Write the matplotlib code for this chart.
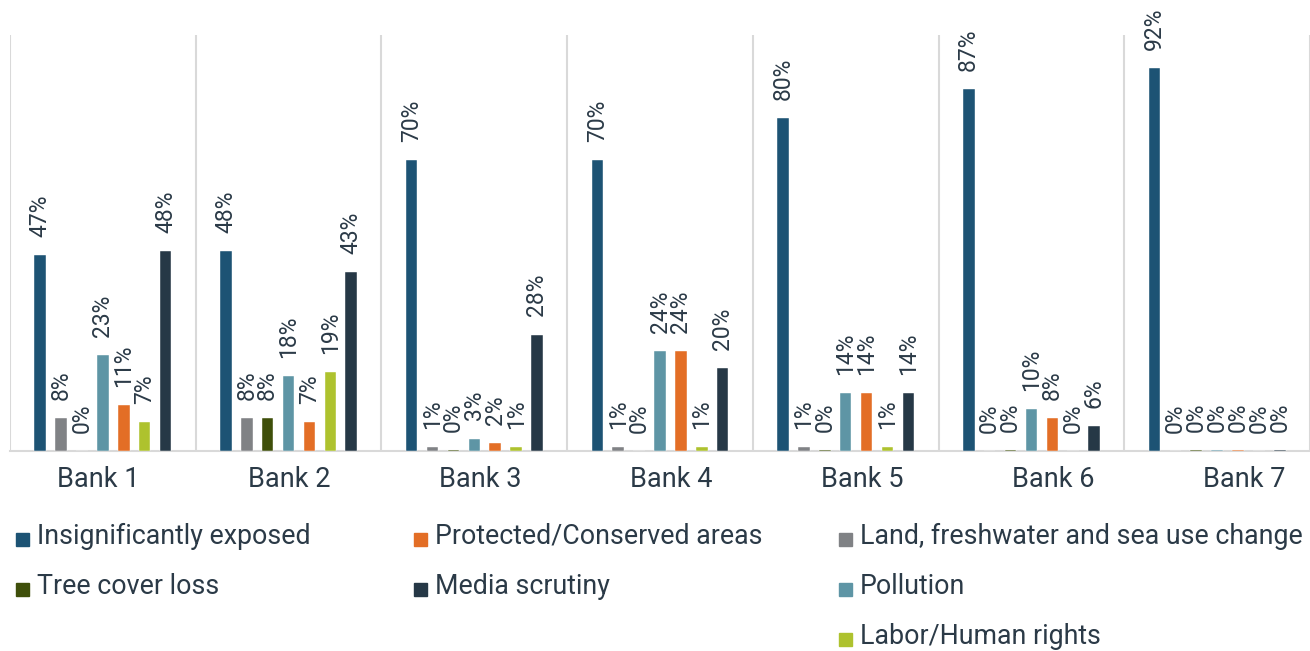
import numpy as np
import matplotlib.pyplot as plt
from matplotlib.patches import Rectangle

plt.rcParams['font.family'] = ['Roboto', 'DejaVu Sans']

banks = ['Bank 1', 'Bank 2', 'Bank 3', 'Bank 4', 'Bank 5', 'Bank 6', 'Bank 7']

# series in the order they appear inside each group
insignificant = [47, 48, 70, 70, 80, 87, 92]
land_use = [8, 8, 1, 1, 1, 0, 0]
tree_cover = [0, 8, 0.3, 0, 0.3, 0.3, 0.3]
pollution = [23, 18, 3, 24, 14, 10, 0.3]
protected = [11, 7, 2, 24, 14, 8, 0.3]
labor = [7, 19, 1, 1, 1, 0, 0]
media = [48, 43, 28, 20, 14, 6, 0.3]

series = [
    ('Insignificantly exposed', insignificant, '#1d5374'),
    ('Land, freshwater and sea use change', land_use, '#808285'),
    ('Tree cover loss', tree_cover, '#3f4f0a'),
    ('Pollution', pollution, '#5e95a5'),
    ('Protected/Conserved areas', protected, '#e36e26'),
    ('Labor/Human rights', labor, '#aec22e'),
    ('Media scrutiny', media, '#263846'),
]

# legend layout as in the original (row, column)
legend_pos = {
    'Insignificantly exposed': (0, 0),
    'Protected/Conserved areas': (0, 1),
    'Land, freshwater and sea use change': (0, 2),
    'Tree cover loss': (1, 0),
    'Media scrutiny': (1, 1),
    'Pollution': (1, 2),
    'Labor/Human rights': (2, 2),
}

text_color = '#2b3a47'
W, H = 1310, 651
fig = plt.figure(figsize=(W / 100, H / 100), dpi=100)
ax = fig.add_axes([10 / W, 1 - 451 / H, 1300 / W, 416 / H])

x = np.arange(len(banks))
step = 0.1125
width = 0.062
for i, (name, vals, color) in enumerate(series):
    pos = x + (i - 3) * step
    ax.bar(pos, vals, width=width, color=color, edgecolor='white', linewidth=0.3, zorder=3)
    for px, v in zip(pos, vals):
        ax.annotate(f'{round(v):.0f}%', (px, v), xytext=(0, 13), textcoords='offset points',
                    rotation=90, ha='center', va='bottom', fontsize=16.5,
                    color=text_color, annotation_clip=False)

for b in np.arange(-0.5, len(banks) + 0.5, 1):
    ax.axvline(b, color='#d9d9d9', linewidth=1.5, zorder=1)

ax.set_xlim(-0.5, len(banks) - 0.5)
ax.set_ylim(0, 100)
ax.set_yticks([])
# the category labels in the original drift slightly right of the groups
ax.set_xticks(x * 1.029 - 0.026)
ax.set_xticklabels(banks, fontsize=19.5, color=text_color)
ax.tick_params(axis='x', length=0, pad=11)
for s in ['top', 'left', 'right']:
    ax.spines[s].set_visible(False)
ax.spines['bottom'].set_color('#d9d9d9')
ax.spines['bottom'].set_linewidth(1.5)

# legend drawn by hand to keep the original arrangement
col_x = [16, 414, 839]
row_y = [536, 586, 636]
for name, vals, color in series:
    r, c = legend_pos[name]
    sx, sy = col_x[c], row_y[r]
    fig.patches.append(Rectangle((sx / W, 1 - (sy + 10) / H), 13 / W, 13 / H,
                                 transform=fig.transFigure, color=color))
    fig.text((sx + 21) / W, 1 - sy / H, name, fontsize=19.3, color=text_color,
             ha='left', va='center')

fig.savefig('out.png', dpi=100)
